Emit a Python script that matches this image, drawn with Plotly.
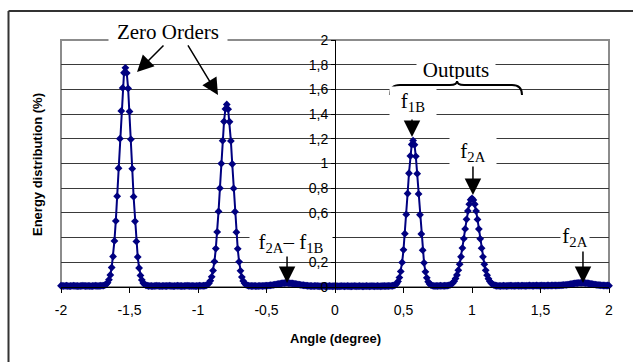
import plotly.graph_objects as go

# ---------------- data ----------------
angle = [round(-2 + 0.01 * i, 2) for i in range(401)]

seg_a = [0.010, 0.009, 0.008, 0.009, 0.010, 0.008, 0.007, 0.008, 0.009, 0.010,
         0.009, 0.008, 0.008, 0.007, 0.008, 0.009, 0.010, 0.009, 0.008, 0.008,
         0.009, 0.008, 0.007, 0.008, 0.009, 0.010, 0.009, 0.008, 0.009, 0.010,
         0.011]
peak_zero1 = [0.011, 0.015, 0.022, 0.035, 0.059, 0.097, 0.158, 0.247, 0.373, 0.535,
              0.735, 0.962, 1.201, 1.426, 1.612, 1.735, 1.775, 1.732, 1.608, 1.421,
              1.196, 0.958, 0.731, 0.532, 0.369, 0.243, 0.154, 0.094, 0.057, 0.033,
              0.021, 0.014, 0.011]
seg_b = [0.008, 0.009, 0.008, 0.007, 0.008, 0.009, 0.010, 0.009, 0.008, 0.007,
         0.008, 0.009, 0.008, 0.008, 0.009, 0.010, 0.009, 0.008, 0.007, 0.008,
         0.009, 0.010, 0.009, 0.008, 0.008, 0.007, 0.008, 0.009, 0.010, 0.009,
         0.008, 0.008, 0.009, 0.008, 0.007, 0.008, 0.009, 0.010, 0.009, 0.009,
         0.010]
peak_zero2 = [0.010, 0.014, 0.020, 0.031, 0.050, 0.082, 0.133, 0.206, 0.311, 0.446,
              0.612, 0.800, 0.999, 1.185, 1.340, 1.442, 1.478, 1.440, 1.338, 1.183,
              0.996, 0.798, 0.610, 0.444, 0.309, 0.204, 0.131, 0.080, 0.049, 0.030,
              0.019, 0.013, 0.010]
seg_c = [0.009, 0.008, 0.008, 0.009, 0.008, 0.007, 0.008, 0.009, 0.009, 0.008, 0.009, 0.010]
bump_diff = [0.010, 0.011, 0.013, 0.014, 0.015, 0.017, 0.019, 0.021, 0.023, 0.025,
             0.027, 0.029, 0.031, 0.032, 0.033, 0.033, 0.032, 0.031, 0.030, 0.029,
             0.027, 0.025, 0.023, 0.021, 0.019, 0.017, 0.015, 0.014, 0.013, 0.011,
             0.010]
seg_d = [0.009, 0.008, 0.008, 0.007, 0.008, 0.009, 0.008, 0.007, 0.006, 0.007,
         0.008, 0.007, 0.006, 0.006, 0.007, 0.008, 0.007, 0.006, 0.007, 0.008,
         0.007, 0.006, 0.006, 0.007, 0.008, 0.007, 0.006, 0.007, 0.008, 0.007,
         0.006, 0.006, 0.007, 0.008, 0.007, 0.006, 0.007, 0.008, 0.007, 0.006,
         0.006, 0.007, 0.008, 0.007, 0.006, 0.007, 0.008, 0.007, 0.006, 0.007,
         0.008, 0.007, 0.006, 0.007, 0.008, 0.008, 0.007, 0.008, 0.008, 0.009,
         0.009, 0.010]
peak_f1b = [0.012, 0.017, 0.027, 0.045, 0.076, 0.126, 0.199, 0.301, 0.432, 0.588,
            0.757, 0.921, 1.061, 1.154, 1.186, 1.152, 1.058, 0.918, 0.754, 0.585,
            0.429, 0.298, 0.196, 0.123, 0.074, 0.043, 0.025, 0.016, 0.011, 0.009]
seg_e = [0.008, 0.009, 0.008, 0.009, 0.010, 0.009, 0.009, 0.010, 0.010]
peak_f2a = [0.011, 0.013, 0.017, 0.023, 0.033, 0.047, 0.068, 0.097, 0.136, 0.185,
            0.245, 0.315, 0.391, 0.470, 0.548, 0.616, 0.671, 0.706, 0.718, 0.705,
            0.670, 0.615, 0.547, 0.469, 0.390, 0.314, 0.244, 0.184, 0.135, 0.096,
            0.067, 0.046, 0.032, 0.022, 0.016, 0.012, 0.010]
seg_f = [0.009, 0.009, 0.008, 0.009, 0.010, 0.009, 0.008, 0.009, 0.010, 0.011,
         0.010, 0.009, 0.009, 0.010, 0.011, 0.010, 0.009, 0.010, 0.011, 0.010,
         0.009, 0.010, 0.011, 0.012, 0.011, 0.010, 0.010, 0.011, 0.012, 0.011,
         0.010, 0.011, 0.012, 0.011, 0.010, 0.011, 0.012, 0.012, 0.011, 0.012,
         0.012, 0.013, 0.012, 0.012, 0.013, 0.013]
bump_f2a = [0.014, 0.015, 0.016, 0.017, 0.018, 0.020, 0.022, 0.024, 0.026, 0.028,
            0.030, 0.031, 0.032, 0.033, 0.034, 0.034, 0.034, 0.033, 0.032, 0.031,
            0.029, 0.027, 0.025, 0.023, 0.021, 0.019, 0.018, 0.016, 0.015, 0.014,
            0.013]
seg_g = [0.012, 0.012, 0.011, 0.012, 0.011]

energy = (seg_a + peak_zero1 + seg_b + peak_zero2 + seg_c + bump_diff + seg_d
          + peak_f1b + seg_e + peak_f2a + seg_f + bump_f2a + seg_g)
assert len(energy) == len(angle)

x_ticks = [-2, -1.5, -1, -0.5, 0, 0.5, 1, 1.5, 2]
x_labels = ["-2", "-1,5", "-1", "-0,5", "0", "0,5", "1", "1,5", "2"]
y_ticks = [0, 0.2, 0.4, 0.6, 0.8, 1.0, 1.2, 1.4, 1.6, 1.8, 2.0]
y_labels = ["0", "0,2", "0,4", "0,6", "0,8", "1", "1,2", "1,4", "1,6", "1,8", "2"]

# ---------------- figure ----------------
NAVY = "#000080"
SERIF = "Times New Roman, Liberation Serif, serif"
SANS = "Arial, Liberation Sans, sans-serif"

fig = go.Figure()
fig.add_trace(go.Scatter(
    x=angle, y=energy, mode="lines+markers",
    line=dict(color=NAVY, width=2),
    marker=dict(symbol="diamond", size=6, color=NAVY),
    cliponaxis=False, hoverinfo="skip",
))

W, H = 633, 362
L, R, T, B = 61, 24, 40, 75

fig.update_layout(
    width=W, height=H,
    margin=dict(l=L, r=R, t=T, b=B, pad=0),
    paper_bgcolor="white", plot_bgcolor="white",
    showlegend=False,
    xaxis=dict(range=[-2, 2], tickvals=x_ticks, ticktext=x_labels,
               ticks="outside", ticklen=5, tickcolor="black", tickwidth=1,
               showline=True, linecolor="black", linewidth=1,
               showgrid=False, zeroline=False, ticklabelstandoff=5,
               tickfont=dict(family=SANS, size=14, color="black")),
    yaxis=dict(range=[0, 2], tickvals=y_ticks, ticktext=y_labels,
               anchor="free", position=0.5,
               ticks="outside", ticklen=4, tickcolor="black",
               showline=True, linecolor="black", linewidth=1,
               showgrid=True, gridcolor="#3a3a3a", gridwidth=1,
               zeroline=False,
               tickfont=dict(family=SANS, size=14, color="black")),
)

def px_x(p):
    return (p - L) / (W - L - R)

def px_y(p):
    return (H - B - p) / (H - T - B)

shapes = [
    # outer frame: top and left edges (the rest lies outside the picture)
    dict(type="line", xref="paper", yref="paper",
         x0=px_x(8.5), x1=px_x(640), y0=px_y(11), y1=px_y(11),
         line=dict(color="#333333", width=2), layer="below"),
    dict(type="line", xref="paper", yref="paper",
         x0=px_x(8.5), x1=px_x(8.5), y0=px_y(11), y1=px_y(370),
         line=dict(color="#333333", width=2), layer="below"),
    # plot area border
    dict(type="rect", xref="paper", yref="paper", x0=0, x1=1, y0=0, y1=1,
         line=dict(color="#8c8c8c", width=2), layer="below"),
    # brace under "Outputs"
    dict(type="path", xref="x", yref="y",
         path=("M 0.401,1.555 Q 0.401,1.636 0.474,1.636 L 0.839,1.636 "
               "Q 0.891,1.636 0.891,1.668 Q 0.891,1.636 0.942,1.636 "
               "L 1.292,1.636 Q 1.365,1.636 1.365,1.555"),
         line=dict(color="black", width=2)),
]

annotations = []

def label(text, x, y, w, h, align="center", pad=1, yref="y"):
    annotations.append(dict(
        text=text, x=x, y=y, xref="x", yref=yref, showarrow=False,
        font=dict(family=SERIF, size=21, color="black"),
        bgcolor="white", width=w, height=h, align=align, borderpad=pad,
        xanchor="center", yanchor="middle"))

def arrow(x0, y0, x1, y1):
    annotations.append(dict(
        text="", x=x1, y=y1, ax=x0, ay=y0, xref="x", yref="y",
        axref="x", ayref="y", showarrow=True, arrowhead=2,
        arrowsize=2.2, arrowwidth=1.5, arrowcolor="black"))

label("Zero Orders", -1.22, px_y(32), 116, 24, yref="paper")
label("Outputs", 0.883, 1.757, 76, 18)
label("f<sub>1B</sub>", 0.569, 1.502, 44, 28)
label("f<sub>2A</sub>", 1.007, 1.093, 44, 28)
label("f<sub>2A</sub>– f<sub>1B</sub>", -0.321, 0.356, 80, 24)
label("f<sub>2A</sub>", 1.752, 0.405, 26, 22)

arrow(-1.241, 1.968, -1.445, 1.741)
arrow(-1.080, 1.968, -0.854, 1.555)
arrow(0.562, 1.368, 0.562, 1.215)
arrow(1.007, 0.988, 1.007, 0.745)
arrow(-0.350, 0.259, -0.350, 0.032)
arrow(1.810, 0.300, 1.810, 0.032)

# axis titles
annotations.append(dict(text="<b>Angle (degree)</b>", xref="paper", yref="paper",
                        x=0.5, y=px_y(338), showarrow=False,
                        font=dict(family=SANS, size=13, color="black"),
                        xanchor="center", yanchor="middle"))
annotations.append(dict(text="<b>Energy distribution (%)</b>", xref="paper", yref="paper",
                        x=px_x(37), y=px_y(165), showarrow=False, textangle=-90,
                        font=dict(family=SANS, size=13, color="black"),
                        xanchor="center", yanchor="middle"))

fig.update_layout(shapes=shapes, annotations=annotations)

fig.write_html("out.html", config={"displayModeBar": False})
